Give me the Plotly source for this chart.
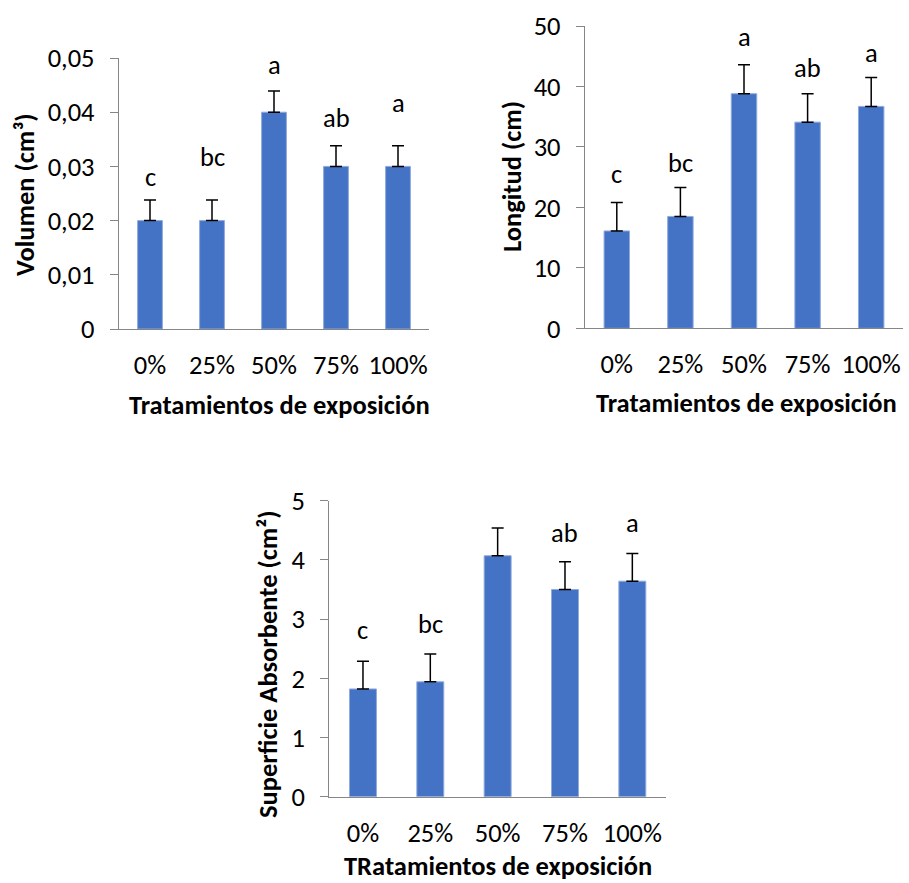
import plotly.graph_objects as go

# Treatment categories shared by the three panels
categories = ["0%", "25%", "50%", "75%", "100%"]

# Panel 1: volume
volumen = [0.020, 0.020, 0.040, 0.030, 0.030]
volumen_err = [0.0038, 0.0038, 0.0039, 0.0038, 0.0038]
volumen_letters = ["c", "bc", "a", "ab", "a"]
volumen_letter_y = [0.0280, 0.0317, 0.0487, 0.0389, 0.0417]
volumen_ticks = [0, 0.01, 0.02, 0.03, 0.04, 0.05]
volumen_ticktext = ["0", "0,01", "0,02", "0,03", "0,04", "0,05"]

# Panel 2: length
longitud = [16.1, 18.5, 38.8, 34.1, 36.7]
longitud_err = [4.7, 4.8, 4.8, 4.7, 4.8]
longitud_letters = ["c", "bc", "a", "ab", "a"]
longitud_letter_y = [25.6, 27.3, 48.1, 43.0, 45.6]
longitud_ticks = [0, 10, 20, 30, 40, 50]

# Panel 3: absorbent surface
superficie = [1.82, 1.94, 4.07, 3.50, 3.64]
superficie_err = [0.47, 0.47, 0.47, 0.47, 0.47]
superficie_letters = ["c", "bc", "a", "ab", "a"]
superficie_letter_y = [2.82, 2.92, 5.01, 4.45, 4.62]
superficie_ticks = [0, 1, 2, 3, 4, 5]

W, H = 909, 883
FONT = "Calibri, Carlito, Lato, sans-serif"
BAR = "#4472C4"
AXIS = "#868686"
TICK_SIZE = 26.5
TITLE_SIZE = 26.5


def px_x(x):
    return x / W


def px_y(y):
    return 1 - y / H


panels = [
    dict(vals=volumen, err=volumen_err, letters=volumen_letters, ly=volumen_letter_y,
         ticks=volumen_ticks, ticktext=volumen_ticktext, rng=[0, 0.05],
         box=(119, 429, 58, 329), xtitle="Tratamientos de exposición", xt=(279, 405),
         ytitle="Volumen (cm³)", yt=(25, 195)),
    dict(vals=longitud, err=longitud_err, letters=longitud_letters, ly=longitud_letter_y,
         ticks=longitud_ticks, ticktext=[str(t) for t in longitud_ticks], rng=[0, 50],
         box=(585, 903, 26, 328.3), xtitle="Tratamientos de exposición", xt=(746, 403),
         ytitle="Longitud (cm)", yt=(512, 177)),
    dict(vals=superficie, err=superficie_err, letters=superficie_letters, ly=superficie_letter_y,
         ticks=superficie_ticks, ticktext=[str(t) for t in superficie_ticks], rng=[0, 5],
         box=(329.3, 666, 500.7, 796.7), xtitle="TRatamientos de exposición", xt=(498, 866),
         ytitle="Superficie Absorbente (cm²)", yt=(268, 664)),
]

fig = go.Figure()
annotations = []
layout_axes = {}

for i, p in enumerate(panels, start=1):
    xa = "x" if i == 1 else f"x{i}"
    ya = "y" if i == 1 else f"y{i}"
    x0, x1, y0, y1 = p["box"]

    fig.add_trace(go.Bar(
        x=categories, y=p["vals"], xaxis=xa, yaxis=ya,
        marker=dict(color=BAR, line=dict(color="#8faadc", width=1)),
        width=0.4,
        error_y=dict(type="data", symmetric=False, array=p["err"],
                     arrayminus=[0] * len(p["err"]),
                     color="black", thickness=1.5, width=6),
        showlegend=False, hoverinfo="skip",
    ))

    layout_axes[f"xaxis{'' if i == 1 else i}"] = dict(
        domain=[px_x(x0), px_x(x1)], anchor=ya, automargin=False,
        showline=True, linecolor=AXIS, linewidth=1.3,
        ticks="", showgrid=False, zeroline=False,
        tickfont=dict(family=FONT, size=TICK_SIZE, color="black"),
        ticklabelstandoff=12,
    )
    layout_axes[f"yaxis{'' if i == 1 else i}"] = dict(
        domain=[px_y(y1), px_y(y0)], anchor=xa, range=p["rng"], automargin=False,
        showline=True, linecolor=AXIS, linewidth=1.3,
        ticks="outside", ticklen=8, tickcolor=AXIS, tickwidth=1.3,
        tickvals=p["ticks"], ticktext=p["ticktext"],
        showgrid=False, zeroline=False,
        tickfont=dict(family=FONT, size=TICK_SIZE, color="black"),
        ticklabelstandoff=10,
    )

    for cat, letter, yv in zip(categories, p["letters"], p["ly"]):
        annotations.append(dict(
            x=cat, y=yv, xref=xa, yref=ya, text=letter, showarrow=False,
            font=dict(family=FONT, size=TICK_SIZE, color="black"),
            xanchor="center", yanchor="middle",
        ))

    annotations.append(dict(
        x=px_x(p["xt"][0]), y=px_y(p["xt"][1]), xref="paper", yref="paper",
        text=f"<b>{p['xtitle']}</b>", showarrow=False,
        font=dict(family=FONT, size=TITLE_SIZE, color="black"),
        xanchor="center", yanchor="middle",
    ))
    annotations.append(dict(
        x=px_x(p["yt"][0]), y=px_y(p["yt"][1]), xref="paper", yref="paper",
        text=f"<b>{p['ytitle']}</b>", showarrow=False, textangle=-90,
        font=dict(family=FONT, size=TITLE_SIZE, color="black"),
        xanchor="center", yanchor="middle",
    ))

fig.update_layout(
    width=W, height=H,
    margin=dict(l=0, r=0, t=0, b=0, autoexpand=False),
    paper_bgcolor="white", plot_bgcolor="white",
    separators=",.",
    annotations=annotations,
    **layout_axes,
)

fig.write_html("out.html")
